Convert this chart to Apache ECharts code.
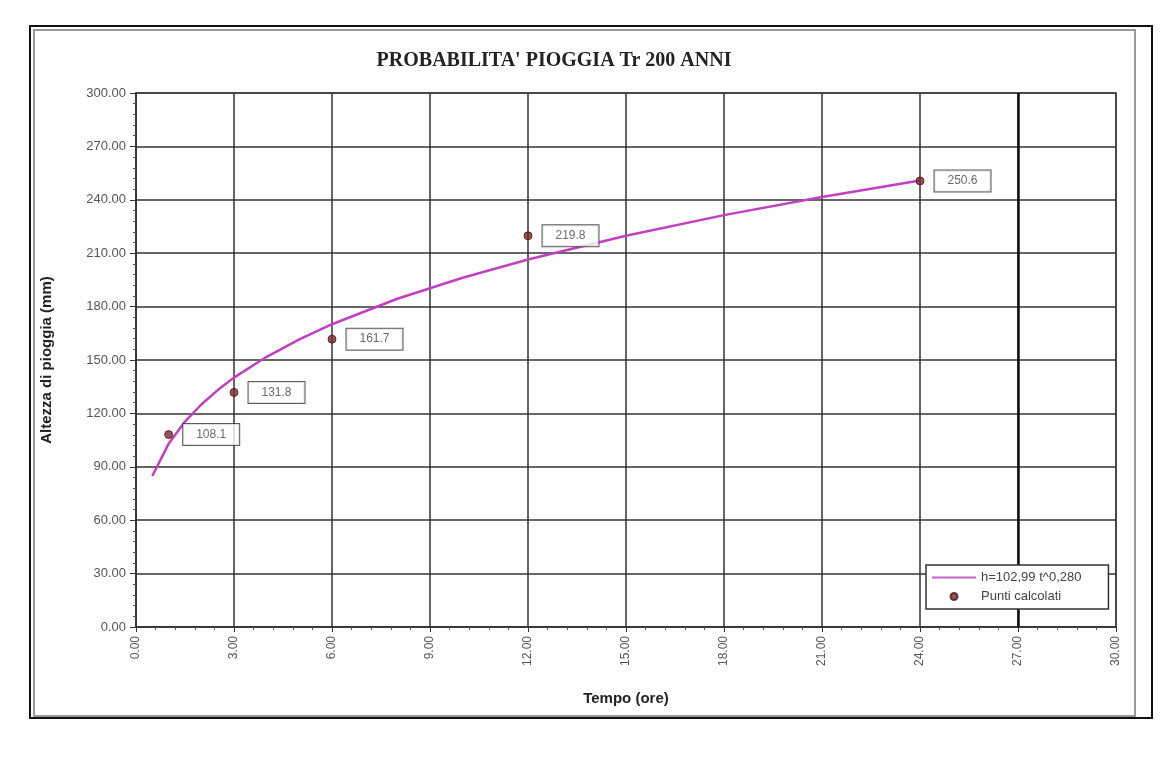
<!DOCTYPE html>
<html>
<head>
<meta charset="utf-8">
<script src="https://cdn.jsdelivr.net/npm/echarts@6/dist/echarts.min.js"></script>
<style>
html,body{margin:0;padding:0;background:#fff;}
#chart{width:1167px;height:764px;}
</style>
</head>
<body>
<div id="chart"></div>
<script>
// Curve h = 102,99 t^0,280
var curveT = [0.5, 1, 1.5, 2, 2.5, 3, 4, 5, 6, 8, 10, 12, 15, 18, 21, 24];
var curveH = [84.8, 103.0, 115.4, 125.0, 133.1, 140.1, 151.8, 161.6, 170.1, 184.4, 196.2, 206.5, 219.8, 231.4, 241.6, 250.8];
// Calculated points
var pointT = [1, 3, 6, 12, 24];
var pointH = [108.1, 131.8, 161.7, 219.8, 250.6];
var curveName = 'h=102,99 t^0,280';
var pointName = 'Punti calcolati';
var titleText = "PROBABILITA' PIOGGIA Tr 200 ANNI";
var xName = 'Tempo (ore)';
var yName = 'Altezza di pioggia (mm)';
var markT = [27];

var curveData = curveT.map(function (t, i) { return [t, curveH[i]]; });
var pointData = pointT.map(function (t, i) { return [t, pointH[i]]; });

var chart = echarts.init(document.getElementById('chart'));
var axisFont = 'Liberation Sans, Arial, sans-serif';
chart.setOption({
  backgroundColor: '#fff',
  animation: false,
  title: {
    text: titleText,
    left: 549, top: 46, textAlign: 'center',
    textStyle: { fontFamily: 'Liberation Serif, Times New Roman, serif', fontWeight: 'bold', fontSize: 20, color: '#222' }
  },
  graphic: [
    { type: 'rect', shape: { x: 30, y: 26, width: 1122, height: 692 }, style: { fill: 'none', stroke: '#111', lineWidth: 2 }, z: 0 },
    { type: 'rect', shape: { x: 34, y: 30, width: 1101, height: 686 }, style: { fill: 'none', stroke: '#999', lineWidth: 2 }, z: 0 }
  ],
  grid: { left: 136, right: 51, top: 93, bottom: 137, show: true, borderColor: '#8a8a8a', borderWidth: 2, backgroundColor: 'transparent' },
  legend: {
    orient: 'vertical',
    left: 926, top: 565,
    backgroundColor: '#fff',
    borderColor: '#333', borderWidth: 1.5, borderRadius: 0,
    padding: [6, 27, 6, 6],
    itemGap: 6,
    itemWidth: 44, itemHeight: 7,
    textStyle: { fontFamily: axisFont, fontSize: 13, color: '#444' },
    data: [
      { name: curveName, icon: 'path://M0,0 L0,0 M0,2.4 L44,2.4 L44,4.6 L0,4.6 Z M44,7 L44,7', itemStyle: { color: '#cc5fcc' } },
      { name: pointName, icon: 'circle' }
    ],
    z: 10
  },
  xAxis: {
    type: 'value', min: 0, max: 30, interval: 3,
    name: xName, nameLocation: 'middle', nameGap: 64,
    nameTextStyle: { fontFamily: axisFont, fontWeight: 'bold', fontSize: 15, color: '#222' },
    axisLine: { show: true, lineStyle: { color: '#333', width: 1.5 } },
    axisTick: { show: true, length: 5, lineStyle: { color: '#333' } },
    minorTick: { show: true, splitNumber: 5, length: 3, lineStyle: { color: '#555' } },
    axisLabel: { rotate: 90, margin: 9, fontFamily: axisFont, fontSize: 12, color: '#555', formatter: function (v) { return v.toFixed(2); } },
    splitLine: { show: true, lineStyle: { color: '#333', width: 1.5 } }
  },
  yAxis: {
    type: 'value', min: 0, max: 300, interval: 30,
    name: yName, nameLocation: 'middle', nameGap: 82,
    nameTextStyle: { fontFamily: axisFont, fontWeight: 'bold', fontSize: 15, color: '#222' },
    axisLine: { show: true, lineStyle: { color: '#333', width: 1.5 } },
    axisTick: { show: true, length: 6, lineStyle: { color: '#333' } },
    minorTick: { show: true, splitNumber: 5, length: 3, lineStyle: { color: '#555' } },
    axisLabel: { margin: 10, fontFamily: axisFont, fontSize: 13, color: '#555', formatter: function (v) { return v.toFixed(2); } },
    splitLine: { show: true, lineStyle: { color: '#333', width: 1.5 } }
  },
  series: [
    {
      name: curveName, type: 'line', data: curveData, showSymbol: false, symbol: 'none', smooth: false,
      lineStyle: { color: '#c040c0', width: 2.5 }, itemStyle: { color: '#cc5fcc' }, z: 3,
      markLine: {
        silent: true, symbol: 'none', label: { show: false },
        lineStyle: { color: '#111', width: 2.5, type: 'solid' },
        data: markT.map(function (t) { return { xAxis: t }; })
      }
    },
    {
      name: pointName, type: 'scatter', data: pointData, symbol: 'circle', symbolSize: 8,
      itemStyle: { color: '#7a2a2a', borderColor: '#4a1414', borderWidth: 1 }, z: 5,
      label: {
        show: true, position: 'right', distance: 10,
        formatter: function (p) { return p.value[1].toFixed(1); },
        backgroundColor: '#fff', borderColor: '#333', borderWidth: 1,
        padding: [5, 13, 4, 13], fontFamily: axisFont, fontSize: 12, color: '#444'
      }
    }
  ]
});
</script>
</body>
</html>
